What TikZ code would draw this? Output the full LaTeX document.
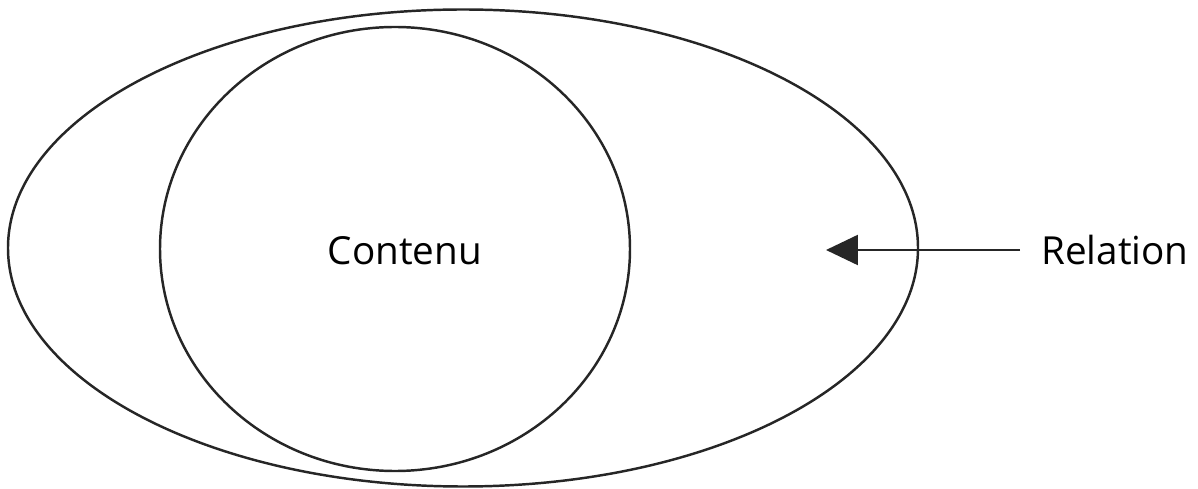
\documentclass[tikz,border=0pt]{standalone}
\usepackage{fontspec}
\setmainfont{Open Sans}
\usetikzlibrary{arrows.meta}
\begin{document}
\begin{tikzpicture}[x=0.02cm, y=-0.02cm, line width=1.4pt,
  label/.style={font=\fontsize{22}{26}\selectfont, inner sep=0pt}]
  \useasboundingbox (0,0) rectangle (1198,489);
  \draw[black!85] (463,248) ellipse (455 and 238.5);
  \draw[black!85] (395,249) ellipse (235 and 222);
  \node[label, anchor=base] (contenu) at (405,265) {Contenu};
  \node[label, anchor=base west, inner xsep=0.4cm] (relation) at (1020,265) {Relation};
  \coordinate (tip) at (826,250);
  \draw[black!85, -{Triangle[length=0.64cm, width=0.6cm]}] (relation.west |- tip) -- (tip);
\end{tikzpicture}
\end{document}
